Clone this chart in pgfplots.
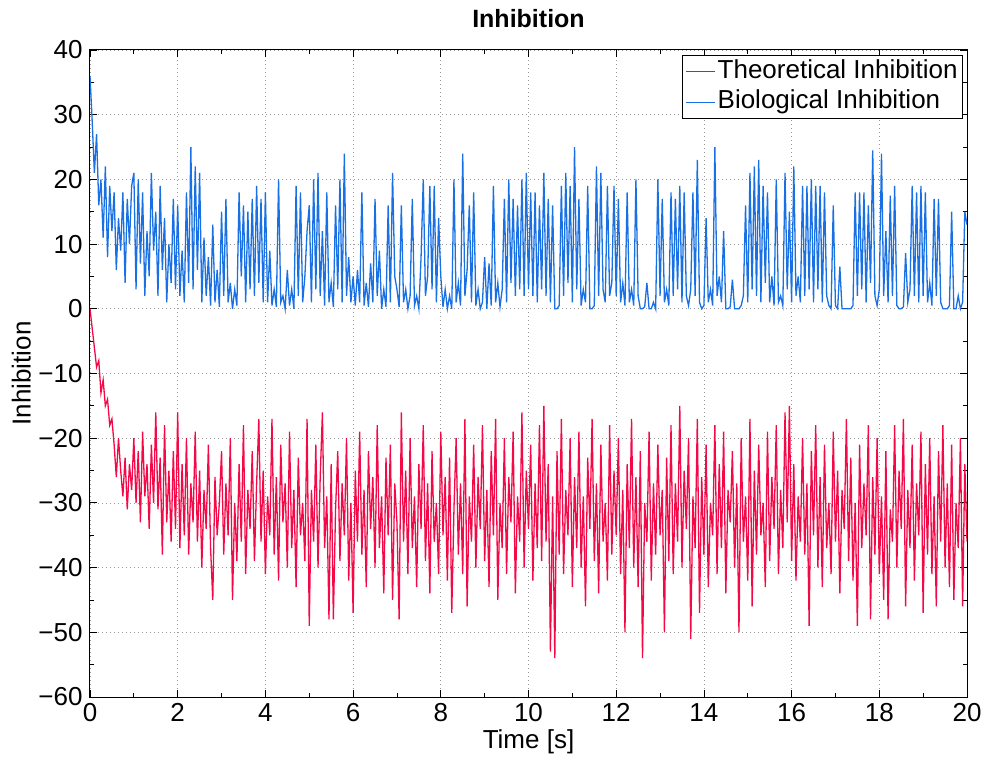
\documentclass[border=0pt]{standalone}
\usepackage{fontspec}
\setmainfont{Liberation Sans}
\usepackage{pgfplots}
\pgfplotsset{compat=1.18}
\usepackage{pgfplotstable}

\definecolor{redc}{RGB}{245,8,70}
\definecolor{bluec}{RGB}{24,112,228}

\pgfplotstableread{
t v
0.00 0
0.05 -3
0.10 -6
0.15 -9
0.20 -8
0.25 -13
0.30 -11
0.35 -15
0.40 -14
0.45 -18
0.50 -17
0.55 -21
0.60 -26
0.65 -20
0.70 -25
0.75 -29
0.80 -23
0.85 -31
0.90 -24
0.95 -28
1.00 -20
1.05 -30
1.10 -22
1.15 -33
1.20 -19
1.25 -29
1.30 -24
1.35 -34
1.40 -21
1.45 -30
1.50 -16
1.55 -31
1.60 -23
1.65 -38
1.70 -18
1.75 -33
1.80 -25
1.85 -36
1.90 -22
1.95 -34
2.00 -16
2.05 -37
2.10 -24
2.15 -35
2.20 -20
2.25 -38
2.30 -27
2.35 -33
2.40 -19
2.45 -36
2.50 -25
2.55 -40
2.60 -28
2.65 -34
2.70 -21
2.75 -37
2.80 -45
2.85 -26
2.90 -35
2.95 -30
3.00 -22
3.05 -38
3.10 -27
3.15 -35
3.20 -20
3.25 -45
3.30 -30
3.35 -39
3.40 -24
3.45 -36
3.50 -18
3.55 -41
3.60 -28
3.65 -34
3.70 -22
3.75 -39
3.80 -27
3.85 -17
3.90 -36
3.95 -25
4.00 -41
4.05 -29
4.10 -35
4.15 -17
4.20 -38
4.25 -26
4.30 -42
4.35 -21
4.40 -33
4.45 -27
4.50 -40
4.55 -19
4.60 -37
4.65 -28
4.70 -43
4.75 -23
4.80 -35
4.85 -30
4.90 -39
4.95 -17
5.00 -49
5.05 -28
5.10 -36
5.15 -21
5.20 -40
5.25 -26
5.30 -16
5.35 -37
5.40 -29
5.45 -48
5.50 -24
5.55 -48
5.60 -31
5.65 -22
5.70 -39
5.75 -27
5.80 -35
5.85 -20
5.90 -42
5.95 -30
6.00 -47
6.05 -25
6.10 -36
6.15 -19
6.20 -38
6.25 -28
6.30 -43
6.35 -22
6.40 -34
6.45 -26
6.50 -40
6.55 -18
6.60 -37
6.65 -29
6.70 -44
6.75 -23
6.80 -35
6.85 -21
6.90 -45
6.95 -27
7.00 -33
7.05 -48
7.10 -16
7.15 -36
7.20 -25
7.25 -41
7.30 -20
7.35 -37
7.40 -29
7.45 -43
7.50 -24
7.55 -34
7.60 -18
7.65 -39
7.70 -27
7.75 -44
7.80 -22
7.85 -36
7.90 -30
7.95 -41
8.00 -19
8.05 -35
8.10 -26
8.15 -42
8.20 -23
8.25 -47
8.30 -31
8.35 -20
8.40 -38
8.45 -27
8.50 -41
8.55 -17
8.60 -46
8.65 -29
8.70 -36
8.75 -21
8.80 -40
8.85 -26
8.90 -34
8.95 -18
9.00 -39
9.05 -28
9.10 -43
9.15 -22
9.20 -35
9.25 -17
9.30 -45
9.35 -30
9.40 -37
9.45 -20
9.50 -41
9.55 -26
9.60 -33
9.65 -19
9.70 -44
9.75 -29
9.80 -36
9.85 -16
9.90 -40
9.95 -25
10.00 -34
10.05 -21
10.10 -42
10.15 -27
10.20 -37
10.25 -18
10.30 -39
10.35 -15
10.40 -36
10.45 -24
10.50 -53
10.55 -29
10.60 -54
10.65 -22
10.70 -38
10.75 -17
10.80 -41
10.85 -28
10.90 -35
10.95 -20
11.00 -43
11.05 -26
11.10 -37
11.15 -19
11.20 -40
11.25 -29
11.30 -46
11.35 -23
11.40 -34
11.45 -17
11.50 -39
11.55 -27
11.60 -44
11.65 -21
11.70 -36
11.75 -30
11.80 -42
11.85 -18
11.90 -38
11.95 -25
12.00 -35
12.05 -20
12.10 -41
12.15 -28
12.20 -50
12.25 -24
12.30 -37
12.35 -17
12.40 -40
12.45 -26
12.50 -43
12.55 -22
12.60 -54
12.65 -30
12.70 -36
12.75 -19
12.80 -42
12.85 -27
12.90 -38
12.95 -21
13.00 -35
13.05 -28
13.10 -50
13.15 -23
13.20 -39
13.25 -18
13.30 -41
13.35 -27
13.40 -36
13.45 -15
13.50 -40
13.55 -25
13.60 -34
13.65 -20
13.70 -51
13.75 -29
13.80 -37
13.85 -17
13.90 -47
13.95 -26
14.00 -38
14.05 -21
14.10 -43
14.15 -30
14.20 -35
14.25 -18
14.30 -41
14.35 -24
14.40 -37
14.45 -19
14.50 -44
14.55 -28
14.60 -33
14.65 -22
14.70 -40
14.75 -27
14.80 -50
14.85 -20
14.90 -36
14.95 -29
15.00 -42
15.05 -17
15.10 -46
15.15 -25
15.20 -38
15.25 -21
15.30 -35
15.35 -30
15.40 -43
15.45 -19
15.50 -39
15.55 -26
15.60 -34
15.65 -18
15.70 -41
15.75 -28
15.80 -37
15.85 -16
15.90 -33
15.95 -15
16.00 -39
16.05 -24
16.10 -42
16.15 -29
16.20 -36
16.25 -20
16.30 -38
16.35 -27
16.40 -49
16.45 -22
16.50 -35
16.55 -18
16.60 -40
16.65 -26
16.70 -43
16.75 -21
16.80 -37
16.85 -30
16.90 -41
16.95 -19
17.00 -36
17.05 -25
17.10 -44
17.15 -28
17.20 -34
17.25 -17
17.30 -39
17.35 -23
17.40 -42
17.45 -30
17.50 -49
17.55 -21
17.60 -37
17.65 -27
17.70 -35
17.75 -18
17.80 -48
17.85 -26
17.90 -38
17.95 -20
18.00 -41
18.05 -29
18.10 -45
18.15 -22
18.20 -48
18.25 -31
18.30 -36
18.35 -18
18.40 -40
18.45 -25
18.50 -34
18.55 -17
18.60 -46
18.65 -28
18.70 -37
18.75 -21
18.80 -42
18.85 -27
18.90 -35
18.95 -19
19.00 -47
19.05 -24
19.10 -38
19.15 -20
19.20 -41
19.25 -29
19.30 -46
19.35 -22
19.40 -36
19.45 -18
19.50 -40
19.55 -27
19.60 -43
19.65 -21
19.70 -45
19.75 -30
19.80 -37
19.85 -20
19.90 -46
19.95 -24
20.00 -36
}\theo

\pgfplotstableread{
t v
0.00 36
0.05 29
0.10 21
0.15 27
0.20 16
0.25 20
0.30 11
0.35 22
0.40 8
0.45 19
0.50 12
0.55 18
0.60 6
0.65 14
0.70 9
0.75 18
0.80 4
0.85 17
0.90 10
0.95 19
1.00 21
1.05 3
1.10 20
1.15 7
1.20 18
1.25 2
1.30 12
1.35 5
1.40 21
1.45 9
1.50 15
1.55 2
1.60 19
1.65 6
1.70 14
1.75 1
1.80 10
1.85 4
1.90 17
1.95 3
2.00 16
2.05 2
2.10 9
2.15 1
2.20 18
2.25 4
2.30 25
2.35 3
2.40 22
2.45 6
2.50 21
2.55 1
2.60 11
2.65 2
2.70 8
2.75 0.5
2.80 13
2.85 1
2.90 6
2.95 0.3
3.00 15
3.05 2
3.10 17
3.15 1
3.20 4
3.25 0
3.30 3
3.35 0.5
3.40 18
3.45 5
3.50 16
3.55 1
3.60 15
3.65 3
3.70 17
3.75 2
3.80 19
3.85 4
3.90 17
3.95 1
4.00 18
4.05 1
4.10 9
4.15 0.5
4.20 3
4.25 0.3
4.30 20
4.35 1
4.40 2
4.45 0
4.50 6
4.55 0.5
4.60 3
4.65 0
4.70 19
4.75 2
4.80 18
4.85 1
4.90 5
4.95 12
5.00 16
5.05 1
5.10 20
5.15 3
5.20 21
5.25 2
5.30 12
5.35 0.5
5.40 18
5.45 1
5.50 4
5.55 0.3
5.60 16
5.65 3
5.70 20
5.75 1
5.80 24
5.85 2
5.90 8
5.95 1
6.00 5
6.05 0.5
6.10 6
6.15 1
6.20 18
6.25 0.5
6.30 4
6.35 0.3
6.40 7
6.45 1
6.50 17
6.55 2
6.60 9
6.65 0
6.70 3
6.75 0.3
6.80 16
6.85 1
6.90 21
6.95 5
7.00 3
7.05 0.3
7.10 16
7.15 1
7.20 3
7.25 0
7.30 2
7.35 17
7.40 0.5
7.45 2
7.50 0
7.55 8
7.60 20
7.65 2
7.70 5
7.75 19
7.80 3
7.85 19
7.90 1
7.95 14
8.00 5
8.05 0.3
8.10 3
8.15 0
8.20 2
8.25 0
8.30 20
8.35 1
8.40 4
8.45 0.5
8.50 24
8.55 2
8.60 6
8.65 16
8.70 1
8.75 18
8.80 0.5
8.85 3
8.90 0
8.95 1
9.00 8
9.05 0
9.10 7
9.15 0.5
9.20 19
9.25 1
9.30 4
9.35 0.3
9.40 3
9.45 17
9.50 1
9.55 20
9.60 4
9.65 17
9.70 2
9.75 16
9.80 3
9.85 20
9.90 2
9.95 21
10.00 3
10.05 18
10.10 2
10.15 18
10.20 1
10.25 16
10.30 3
10.35 21
10.40 2
10.45 17
10.50 1
10.55 16
10.60 0
10.65 0
10.70 0.5
10.75 19
10.80 2
10.85 21
10.90 4
10.95 19
11.00 1
11.05 25
11.10 3
11.15 17
11.20 0.5
11.25 3
11.30 1
11.35 19
11.40 0
11.45 0
11.50 0.5
11.55 22
11.60 2
11.65 21
11.70 3
11.75 1
11.80 19
11.85 2
11.90 4
11.95 19
12.00 2
12.05 17
12.10 1
12.15 4
12.20 0.5
12.25 18
12.30 1
12.35 3
12.40 0.5
12.45 20
12.50 2
12.55 0
12.60 0
12.65 0.3
12.70 4
12.75 0
12.80 0
12.85 1
12.90 0
12.95 20
13.00 2
13.05 17
13.10 1
13.15 3
13.20 0.5
13.25 18
13.30 2
13.35 17
13.40 3
13.45 19
13.50 1
13.55 18
13.60 2
13.65 0.5
13.70 3
13.75 18
13.80 2
13.85 23
13.90 1
13.95 0
14.00 0.5
14.05 14
14.10 1
14.15 3
14.20 0.5
14.25 25
14.30 2
14.35 5
14.40 1
14.45 12
14.50 0
14.55 0
14.60 0.3
14.65 4.5
14.70 0
14.75 0
14.80 0
14.85 0.5
14.90 2
14.95 16
15.00 1
15.05 21
15.10 3
15.15 22
15.20 2
15.25 23
15.30 1
15.35 19
15.40 4
15.45 18
15.50 1
15.55 5
15.60 0.5
15.65 20
15.70 1
15.75 2
15.80 0.5
15.85 21
15.90 3
15.95 15
16.00 1
16.05 22
16.10 2
16.15 5
16.20 1
16.25 19
16.30 2
16.35 19
16.40 3
16.45 20
16.50 1
16.55 19
16.60 3
16.65 19
16.70 1
16.75 18
16.80 2
16.85 0.5
16.90 0
16.95 16
17.00 0.5
17.05 0
17.10 6.5
17.15 0
17.20 0
17.25 0
17.30 0
17.35 0
17.40 0.5
17.45 18
17.50 2
17.55 18
17.60 3
17.65 18
17.70 1
17.75 16
17.80 4
17.85 24.5
17.90 2
17.95 0.5
18.00 3
18.05 24
18.10 2
18.15 12
18.20 1
18.25 17.5
18.30 2
18.35 19
18.40 0.5
18.45 0
18.50 0
18.55 0.3
18.60 8.6
18.65 1
18.70 3
18.75 19
18.80 2
18.85 18
18.90 1
18.95 19
19.00 2
19.05 18
19.10 1
19.15 4
19.20 0.5
19.25 17
19.30 2
19.35 17
19.40 1
19.45 0
19.50 0
19.55 0
19.60 0.5
19.65 15
19.70 0
19.75 0
19.80 2
19.85 0
19.90 1
19.95 15
20.00 13
}\bio

\begin{document}
\begin{tikzpicture}
\path[use as bounding box] (-90pt,-59pt) rectangle (896pt,697pt);
\begin{axis}[
  at={(0pt,0pt)}, anchor=south west,
  scale only axis, width=877pt, height=647pt,
  xmin=0, xmax=20, ymin=-60, ymax=40,
  xtick={0,2,...,20}, ytick={-60,-50,...,40},
  yticklabels={−60,−50,−40,−30,−20,−10,0,10,20,30,40},
  minor x tick num=1, minor y tick num=1,
  tick align=inside,
  major tick length=7pt, minor tick length=4pt,
  tick style={black, line width=0.8pt},
  axis line style={black, line width=1pt},
  grid=major,
  major grid style={gray!80, line width=0.7pt, dash pattern=on 0.8pt off 3.2pt},
  /pgf/number format/assume math mode=true,
  ticklabel style={font=\fontsize{26}{30}\selectfont},
  yticklabel style={xshift=-4pt},
  xticklabel style={yshift=-3pt},
  title={Inhibition},
  title style={font=\fontsize{25}{30}\selectfont\bfseries, at={(axis description cs:0.5,1)}, anchor=base, yshift=16pt},
  xlabel={Time [s]},
  xlabel style={font=\fontsize{26}{30}\selectfont, at={(axis description cs:0.5,0)}, anchor=base, yshift=-51pt},
  ylabel={Inhibition},
  ylabel style={font=\fontsize{26}{30}\selectfont, at={(axis description cs:-0.0673,0.5)}, anchor=south, inner sep=0pt, rotate=0},
  legend style={at={(0.9954,0.9923)}, anchor=north east, draw=black, line width=0.8pt,
    font=\fontsize{26}{30}\selectfont, inner xsep=3pt, inner ysep=1pt,
    row sep=0pt, cells={anchor=west},
    nodes={inner ysep=3pt, text height=19pt, text depth=5.5pt}},
  legend image code/.code={\draw[#1, line width=0.8pt] (0pt,0pt) -- (29pt,0pt);},
]
\addplot[redc, line width=1.3pt] table[x=t, y=v] {\theo};
\addlegendentry{Theoretical Inhibition}
\addplot[bluec, line width=1.3pt] table[x=t, y=v] {\bio};
\addlegendentry{Biological Inhibition}
\end{axis}
\end{tikzpicture}
\end{document}
